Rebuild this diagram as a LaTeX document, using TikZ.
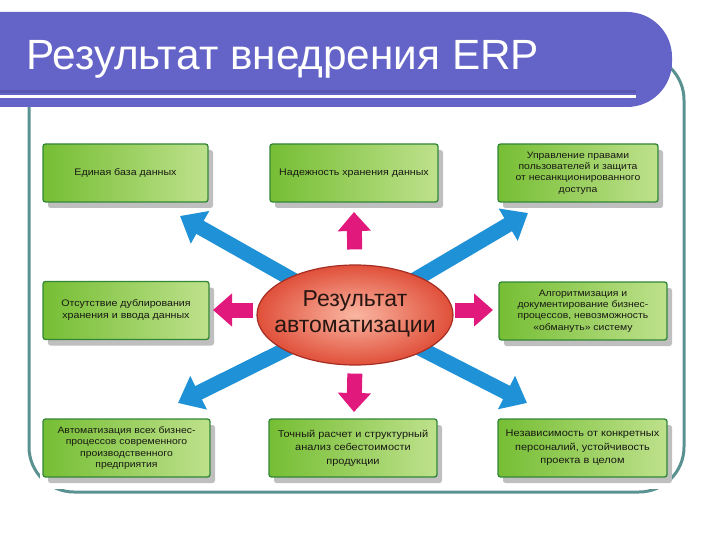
\documentclass[tikz,border=0pt]{standalone}
\usepackage{fontspec}
\setmainfont{Liberation Sans}
\newfontfamily\boxfont[FakeStretch=1.12]{Liberation Sans}
\usetikzlibrary{shapes.geometric,arrows.meta,shadows}
\pgfdeclarelayer{back}
\pgfdeclarelayer{arr}
\pgfsetlayers{back,arr,main}
\definecolor{barc}{RGB}{100,100,200}
\definecolor{bardark}{RGB}{88,88,180}
\definecolor{framec}{RGB}{90,145,145}
\definecolor{arrblue}{RGB}{30,145,215}
\definecolor{arrmag}{RGB}{225,25,125}
\definecolor{boxline}{RGB}{50,135,55}
\definecolor{gL}{RGB}{118,190,52}
\definecolor{gM}{RGB}{238,247,212}
\definecolor{gR}{RGB}{190,225,140}
\definecolor{boxtext}{RGB}{25,25,20}
\definecolor{ellIn}{RGB}{250,182,162}
\definecolor{ellOut}{RGB}{224,80,58}
\definecolor{ellline}{RGB}{165,45,35}
\definecolor{elltext}{RGB}{40,22,18}
\tikzset{
  gbox/.style={draw=boxline, line width=1.3pt, rounded corners=2.5pt,
    left color=gL, middle color=gM, right color=gR,
    minimum height=58pt, inner sep=2pt, align=center, text=boxtext,
    drop shadow={shadow xshift=5pt, shadow yshift=-6pt, fill=black!55, opacity=0.45}},
  fone/.style={font=\boxfont\fontsize{9.5}{11.5}\selectfont},
  ffour/.style={font=\boxfont\fontsize{9.3}{11.2}\selectfont},
  ftwo/.style={font=\boxfont\fontsize{9.5}{12}\selectfont},
  fthree/.style={font=\boxfont\fontsize{9.8}{13.5}\selectfont},
  barrow/.style={draw=arrblue, line width=15pt, -{Triangle[length=23pt,width=36pt]}, arrblue},
  marrow/.style={draw=arrmag, line width=15pt, -{Triangle[length=19pt,width=32pt]}, arrmag},
  centre/.style={ellipse, draw=ellline, line width=1.2pt, minimum width=196pt,
    minimum height=100pt, inner sep=0pt, inner color=ellIn, outer color=ellOut},
  centretext/.style={align=center, text=elltext, inner sep=0pt,
    font=\fontsize{23}{26}\selectfont},
  titletext/.style={anchor=base west, text=white, inner sep=0pt,
    font=\fontsize{42.3}{48}\selectfont}
}
\begin{document}
\begin{tikzpicture}[x=1pt,y=-1pt]
\useasboundingbox (0,0) rectangle (720,540);
\begin{pgfonlayer}{back}
  \clip (0,0) rectangle (720,540);
  \draw[framec, line width=3pt, rounded corners=45pt] (29,55) rectangle (684,492);
  \fill[white] (40,128) rectangle (672,489);
  \fill[barc, rounded corners=45pt] (-60,12) rectangle (672,107);
  \fill[bardark] (0,90.5) rectangle (636,93);
  \fill[white] (0,95) rectangle (636,98.5);
  \node[titletext] (title) at (26,70) {Результат внедрения ERP};
\end{pgfonlayer}

% boxes
\node[gbox, fone, minimum width=165pt] (b1) at (125.5,173) {Единая база данных};
\node[gbox, fone, minimum width=168pt] (b2) at (354,173) {Надежность хранения данных};
\node[gbox, ffour, minimum width=160pt] (b3) at (578,173) {Управление правами\\пользователей и защита\\от несанкционированного\\доступа};
\node[gbox, ftwo, minimum width=166pt] (b4) at (126,310.5) {Отсутствие дублирования\\хранения и ввода данных};
\node[gbox, ffour, minimum width=168pt] (b5) at (583,311) {Алгоритмизация и\\документирование бизнес-\\процессов, невозможность\\«обмануть» систему};
\node[gbox, ffour, minimum width=167pt] (b6) at (126.5,448) {Автоматизация всех бизнес-\\процессов современного\\производственного\\предприятия};
\node[gbox, fthree, minimum width=168pt] (b7) at (353,448) {Точный расчет и структурный\\анализ себестоимости\\продукции};
\node[gbox, fthree, minimum width=169pt] (b8) at (582.5,448) {Независимость от конкретных\\персоналий, устойчивость\\проекта в целом};

% centre
\node[centre] (c) at (355,315) {};
\node[centretext] (ct) at (355,314) {Результат\\автоматизации};

% arrow tips
\coordinate (tUL) at (180,216);
\coordinate (tUR) at (528,213);
\coordinate (tLL) at (178,403);
\coordinate (tLR) at (527,403);
\coordinate (mU) at (354,212);
\coordinate (mD) at (354,412);
\coordinate (mL) at (213,310);
\coordinate (mR) at (493,310);

\begin{pgfonlayer}{arr}
  \draw[barrow] (c.center) -- (tUL);
  \draw[barrow] (c.center) -- (tUR);
  \draw[barrow] (c.center) -- (tLL);
  \draw[barrow] (c.center) -- (tLR);
\end{pgfonlayer}

\draw[marrow, shorten <=15pt] (c.north) -- (mU);
\draw[marrow, shorten <=8pt] (c.south) -- (mD);
\draw[marrow] ([yshift=5pt,xshift=-3pt]c.west) -- (mL);
\draw[marrow] ([yshift=5pt,xshift=1pt]c.east) -- (mR);
\end{tikzpicture}
\end{document}
